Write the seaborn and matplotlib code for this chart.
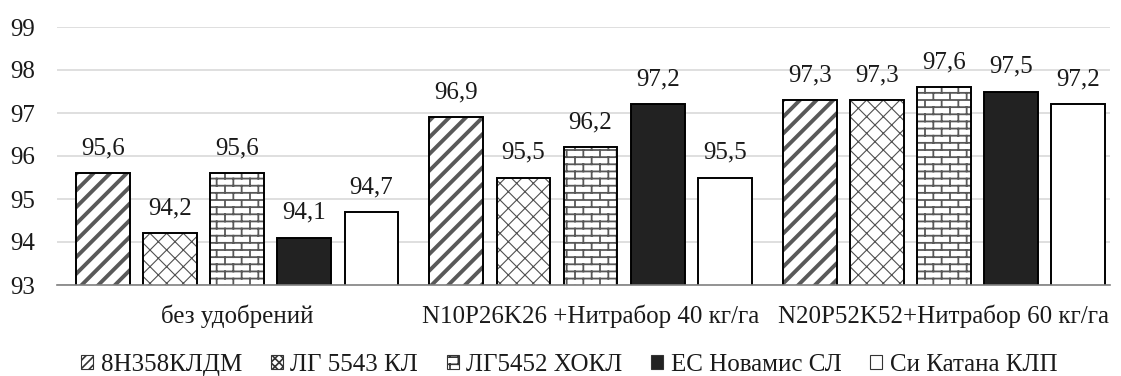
import numpy as np
import pandas as pd
import matplotlib
matplotlib.use("Agg")
import matplotlib.pyplot as plt
import matplotlib.hatch as mhatch
from matplotlib.path import Path
from matplotlib.patches import Patch, Rectangle
import seaborn as sns

# ---------------- data ----------------
categories = ["без удобрений", "N10P26K26 +Нитрабор 40 кг/га", "N20P52K52+Нитрабор 60 кг/га"]
series = ["8Н358КЛДМ", "ЛГ 5543 КЛ", "ЛГ5452 ХОКЛ", "ЕС Новамис СЛ", "Си Катана КЛП"]
v_8n358 = [95.6, 96.9, 97.3]
v_lg5543 = [94.2, 95.5, 97.3]
v_lg5452 = [95.6, 96.2, 97.6]
v_es_novamis = [94.1, 97.2, 97.5]
v_si_katana = [94.7, 95.5, 97.2]
y_ticks = [93, 94, 95, 96, 97, 98, 99]

values = [v_8n358, v_lg5543, v_lg5452, v_es_novamis, v_si_katana]
df = pd.DataFrame(
    [(c, s, v) for s, vals in zip(series, values) for c, v in zip(categories, vals)],
    columns=["cat", "series", "value"],
)

# ------------- custom brick hatch -------------
_orig_get_path = mhatch.get_path


def _brick_path(rows=14, cols=6):
    verts, codes = [], []
    for r in range(rows + 1):
        y = r / rows
        verts += [(0, y), (1, y)]
        codes += [Path.MOVETO, Path.LINETO]
    for r in range(rows):
        y0, y1 = r / rows, (r + 1) / rows
        off = 0 if r % 2 == 0 else 0.5 / cols
        for c in range(cols + 1):
            x = c / cols + off
            if x > 1:
                continue
            verts += [(x, y0), (x, y1)]
            codes += [Path.MOVETO, Path.LINETO]
    return Path(np.array(verts, float), np.array(codes, dtype=Path.code_type))


def _get_path(hatchpattern, density=6):
    if hatchpattern == "+":
        return _brick_path()
    return _orig_get_path(hatchpattern, density)


mhatch.get_path = _get_path

# ---------------- style ----------------
sns.set_theme(style="white")
plt.rcParams["font.family"] = ["Liberation Serif", "DejaVu Serif"]
plt.rcParams["hatch.linewidth"] = 1.2

FS = 18
TXT = "#1a1a1a"

fig = plt.figure(figsize=(11.21, 3.76), dpi=100)
ax = fig.add_axes([57 / 1121, 1 - 285 / 376, (1110 - 57) / 1121, (285 - 27) / 376])

sns.barplot(data=df, x="cat", y="value", hue="series", order=categories,
            hue_order=series, width=0.95, gap=0.2, legend=False, ax=ax,
            saturation=1)

styles = [
    dict(fc="white", hatch="//", lh="////", hc="#595959", hlw=2.8),
    dict(fc="white", hatch="xx", lh="xxxx", hc="#505050", hlw=0.8),
    dict(fc="white", hatch="+", lh="+", hc="#595959", hlw=1.3),
    dict(fc="#222222", hatch=None, lh=None, hc="black", hlw=1.0),
    dict(fc="white", hatch=None, lh=None, hc="black", hlw=1.0),
]

for cont, st in zip(ax.containers, styles):
    for bar in cont:
        bar.set_facecolor(st["fc"])
        bar.set_edgecolor(st["hc"])
        bar.set_linewidth(0)
        if st["hatch"]:
            bar.set_hatch(st["hatch"])
            if hasattr(bar, "set_hatch_linewidth"):
                bar.set_hatch_linewidth(st["hlw"])
        ax.add_patch(Rectangle(bar.get_xy(), bar.get_width(), bar.get_height(),
                               fill=False, ec="black", lw=1.4, zorder=bar.get_zorder() + 0.1))
    ax.bar_label(cont, labels=[f"{v:.1f}".replace(".", ",") for v in cont.datavalues],
                 padding=10, fontsize=FS, color=TXT)

ax.set_ylim(93, 99)
ax.set_yticks(y_ticks)
ax.set_xlim(-0.51, 2.47)
ax.yaxis.grid(True, color="#d9d9d9", lw=1.2)
ax.set_axisbelow(True)
for s in ["left", "right", "top"]:
    ax.spines[s].set_visible(False)
ax.spines["bottom"].set_color("#808080")
ax.spines["bottom"].set_linewidth(1.2)
ax.tick_params(axis="y", length=0, labelsize=FS, pad=16, colors=TXT)
ax.tick_params(axis="x", length=0, labelsize=FS, pad=14, colors=TXT)
ax.set_xlabel("")
ax.set_ylabel("")

handles = []
for st in styles:
    h = Patch(facecolor=st["fc"], edgecolor="#333333", hatch=st["lh"], lw=0.8)
    handles.append(h)
fig.legend(handles, series, loc="center", bbox_to_anchor=(0.508, 0.03), ncol=5,
           frameon=False, fontsize=FS, handlelength=0.48, handleheight=0.48,
           handletextpad=0.3, columnspacing=1.15, labelcolor=TXT,
           borderpad=0.1)

fig.savefig("out.png", dpi=100)
